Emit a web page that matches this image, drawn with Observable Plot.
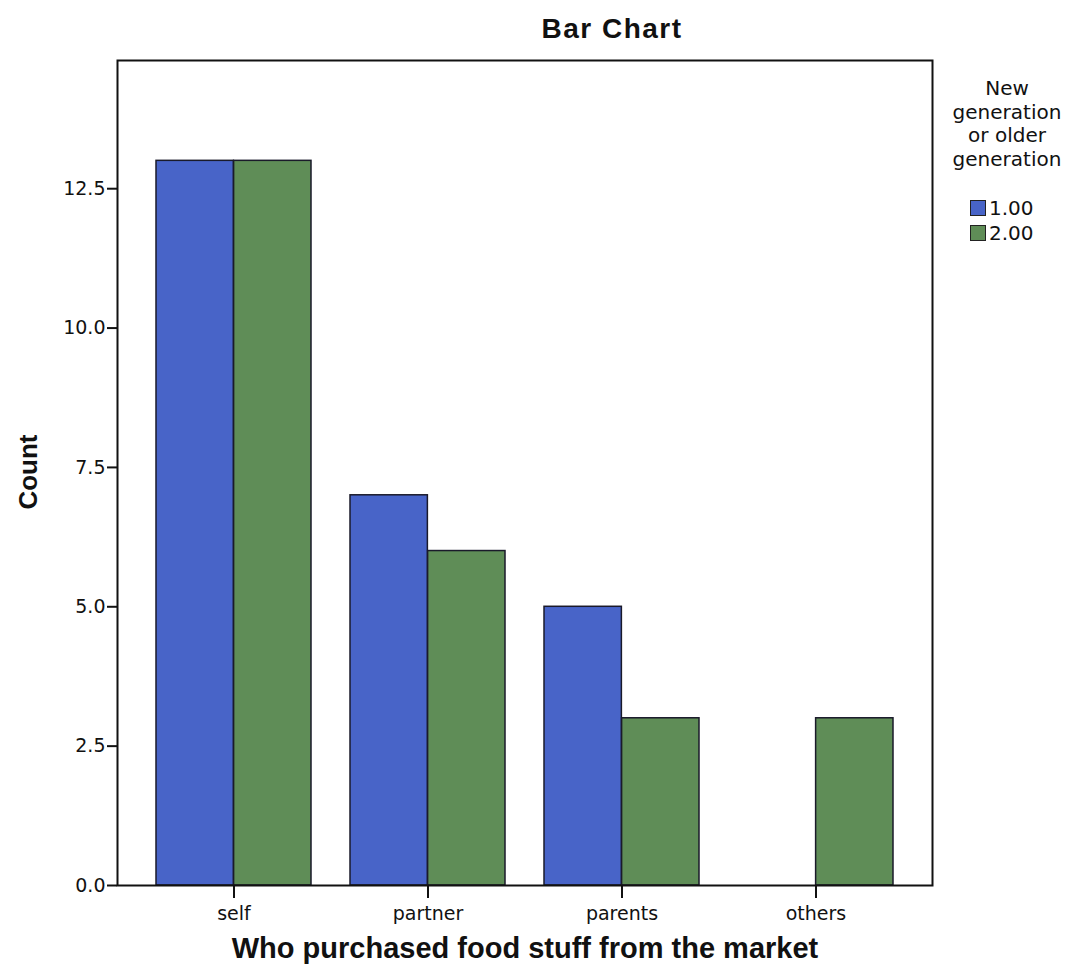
<!DOCTYPE html>
<html>
<head>
<meta charset="utf-8">
<script src="https://cdn.jsdelivr.net/npm/d3@7"></script>
<script src="https://cdn.jsdelivr.net/npm/@observablehq/plot@0.6"></script>
<style>
  html, body { margin: 0; padding: 0; background: #fff; }
  #wrap { position: relative; width: 1070px; height: 978px; font-family: "Liberation Sans", Arial, sans-serif; color: #111; }
  #title { position: absolute; left: 462px; width: 300px; top: 13px; text-align: center; font-weight: bold; font-size: 28px; letter-spacing: 1.5px; }
  #xlabel { position: absolute; left: 75px; width: 900px; top: 932px; text-align: center; font-weight: bold; font-size: 29px; }
  #ylabel { position: absolute; left: 28px; top: 472px; transform: translate(-50%, -50%) rotate(-90deg); font-weight: bold; font-size: 26px; white-space: nowrap; }
  #legend { position: absolute; left: 940px; width: 134px; top: 77px; font-size: 20px; font-family: "DejaVu Sans", sans-serif; }
  #legend .ttl { text-align: center; line-height: 23.5px; }
  #legend .item { display: flex; align-items: center; margin-left: 30px; height: 25px; }
  #legend .sw { width: 16px; height: 16px; border: 1.5px solid #222; margin-right: 3px; box-sizing: border-box; }
</style>
</head>
<body>
<div id="wrap">
  <div id="chart"></div>
  <div id="title">Bar Chart</div>
  <div id="ylabel">Count</div>
  <div id="xlabel">Who purchased food stuff from the market</div>
  <div id="legend"></div>
</div>
<script>
const categories = ["self", "partner", "parents", "others"];
const groups = ["1.00", "2.00"];
const counts1 = [13, 7, 5, 0];
const counts2 = [13, 6, 3, 3];
const colors = ["#4864c8", "#5f8d57"];
const yTicks = [0, 2.5, 5, 7.5, 10, 12.5];

const W = 1070, H = 978, ML = 117, MR = 138, MT = 60, MB = 93;

const rows1 = categories.map((c, i) => ({category: c, group: groups[0], count: counts1[i]})).filter(d => d.count > 0);
const rows2 = categories.map((c, i) => ({category: c, group: groups[1], count: counts2[i]})).filter(d => d.count > 0);

const xOpts = {type: "band", domain: categories, padding: 0.2, label: null};
// half of the band, from the same band scale the plot uses
const xScale = Plot.scale({x: {...xOpts, range: [ML, W - MR]}});
const half = xScale.bandwidth / 2;

const chart = Plot.plot({
  width: W,
  height: H,
  marginLeft: ML,
  marginRight: MR,
  marginTop: MT,
  marginBottom: MB,
  style: {fontFamily: "DejaVu Sans, sans-serif", fontSize: "19px", color: "#111", background: "transparent"},
  x: xOpts,
  y: {domain: [0, 14.8], label: null},
  marks: [
    Plot.barY(rows1, {x: "category", y: "count", fill: colors[0], insetRight: half, stroke: "#1a1a2a", strokeWidth: 1.5}),
    Plot.barY(rows2, {x: "category", y: "count", fill: colors[1], insetLeft: half, stroke: "#1a1a2a", strokeWidth: 1.5}),
    Plot.axisY({ticks: yTicks, tickFormat: ".1f", tickSize: 10, tickPadding: 2, label: null, stroke: "#111", strokeWidth: 2, fontSize: 19}),
    Plot.axisX({tickSize: 13, tickPadding: 8, label: null, stroke: "#111", strokeWidth: 2, fontSize: 19}),
    Plot.frame({stroke: "#111", strokeWidth: 2})
  ]
});
document.getElementById("chart").appendChild(chart);

const leg = document.getElementById("legend");
const t = document.createElement("div");
t.className = "ttl";
t.innerHTML = "New<br>generation<br>or older<br>generation";
leg.appendChild(t);
const sp = document.createElement("div");
sp.style.height = "24px";
leg.appendChild(sp);
groups.forEach((g, i) => {
  const it = document.createElement("div");
  it.className = "item";
  const s = document.createElement("div");
  s.className = "sw";
  s.style.background = colors[i];
  const l = document.createElement("span");
  l.textContent = g;
  it.appendChild(s); it.appendChild(l);
  leg.appendChild(it);
});
</script>
</body>
</html>
